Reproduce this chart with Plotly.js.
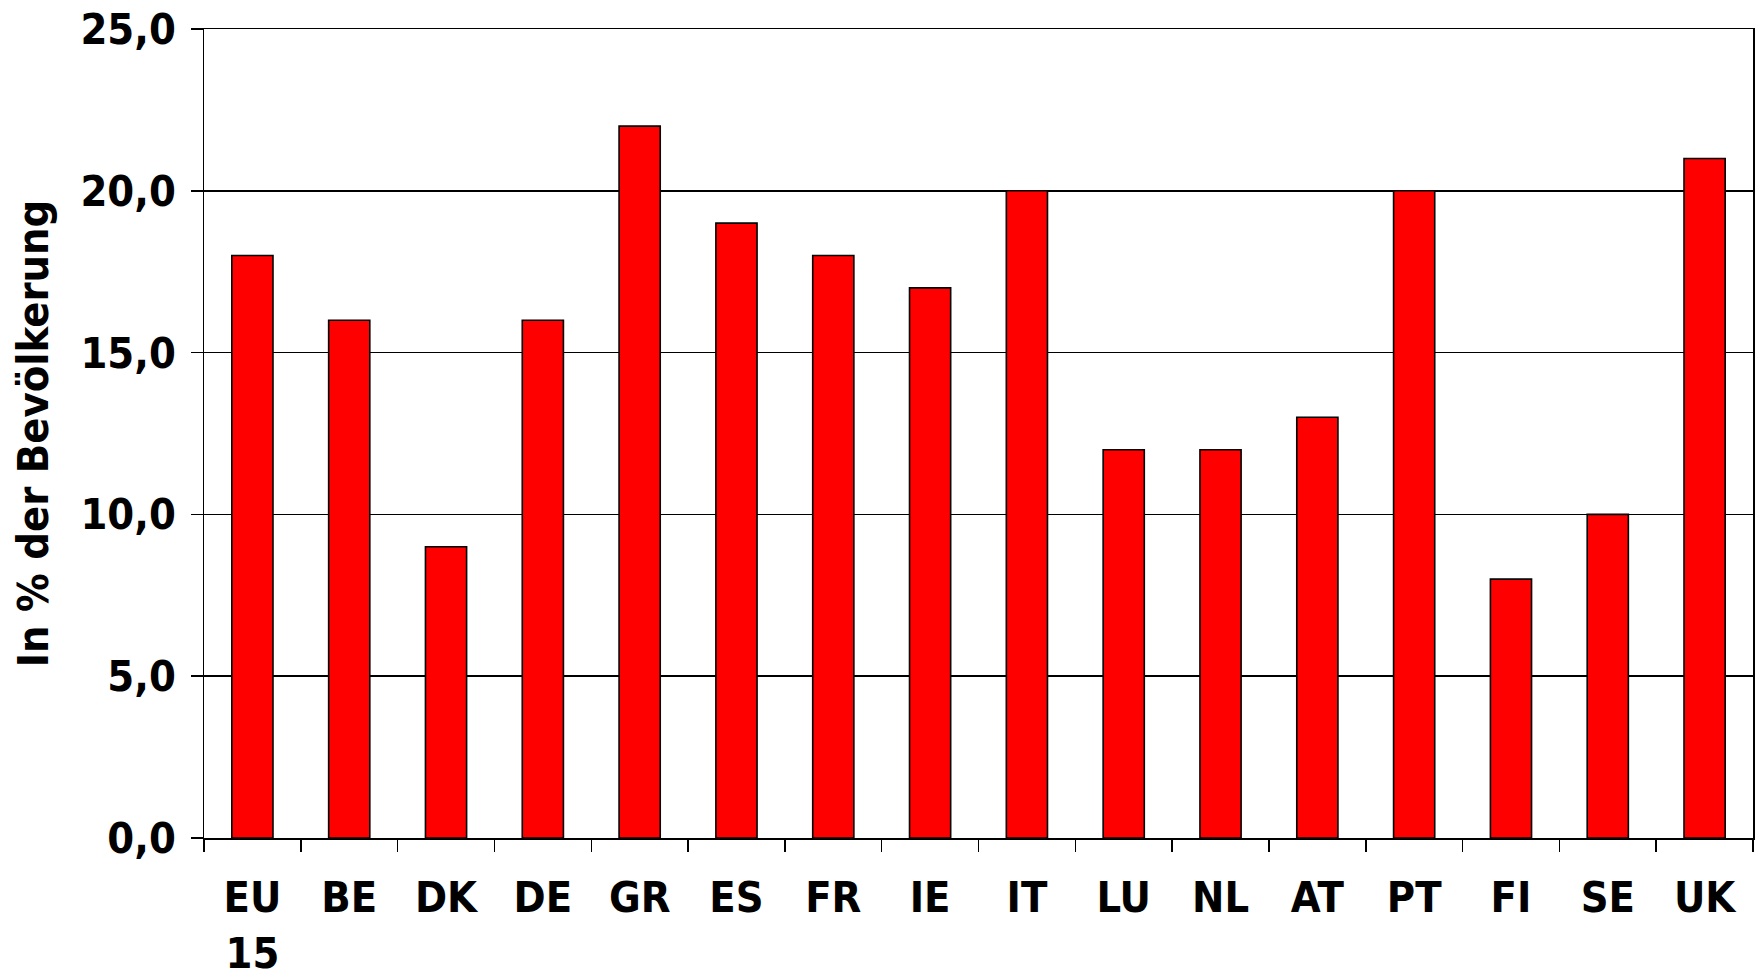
<!DOCTYPE html>
<html>
<head>
<meta charset="utf-8">
<script src="https://cdn.plot.ly/plotly-3.0.1.min.js"></script>
<style>
html, body { margin: 0; padding: 0; background: #fff; }
#chart { width: 1758px; height: 977px; }
</style>
</head>
<body>
<div id="chart"></div>
<script>
const categories = ["EU<br>15", "BE", "DK", "DE", "GR", "ES", "FR", "IE", "IT", "LU", "NL", "AT", "PT", "FI", "SE", "UK"];
const values = [18, 16, 9, 16, 22, 19, 18, 17, 20, 12, 12, 13, 20, 8, 10, 21];
const yTitle = "In % der Bevölkerung";

const FONT = "DejaVu Sans Condensed, DejaVu Sans, sans-serif";

const trace = {
  type: "bar",
  x: categories,
  y: values,
  marker: { color: "#FF0000", line: { color: "#000000", width: 1.6 } },
  hoverinfo: "x+y"
};

const layout = {
  width: 1758,
  height: 977,
  margin: { l: 204, r: 5, t: 29, b: 139, pad: 0 },
  paper_bgcolor: "#ffffff",
  plot_bgcolor: "#ffffff",
  bargap: 0.575,
  showlegend: false,
  separators: ",.",
  font: { family: FONT, color: "#000000", size: 43, weight: "bold" },
  xaxis: {
    type: "category",
    showline: true, linecolor: "#000", linewidth: 1.5, mirror: true,
    ticks: "outside", ticklen: 12, tickwidth: 1.5, tickcolor: "#000",
    tickson: "boundaries",
    showgrid: false,
    tickangle: 0,
    ticklabelstandoff: 21,
    tickfont: { family: FONT, size: 43, weight: "bold", color: "#000" }
  },
  yaxis: {
    range: [0, 25],
    dtick: 5,
    tickformat: ".1f",
    showline: true, linecolor: "#000", linewidth: 1.5, mirror: true,
    ticks: "outside", ticklen: 12, tickwidth: 1.5, tickcolor: "#000",
    showgrid: true, gridcolor: "#000", gridwidth: 1.5,
    zeroline: false,
    ticklabelstandoff: 6,
    tickfont: { family: FONT, size: 43, weight: "bold", color: "#000" },
    title: { text: yTitle, standoff: 18, font: { family: FONT, size: 43, weight: "bold", color: "#000" } }
  }
};

Plotly.newPlot("chart", [trace], layout, { staticPlot: true, displayModeBar: false });
</script>
</body>
</html>
